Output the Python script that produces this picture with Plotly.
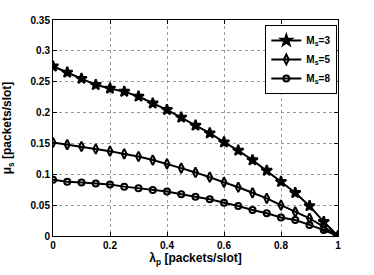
import plotly.graph_objects as go

lam = [0, 0.05, 0.1, 0.15, 0.2, 0.25, 0.3, 0.35, 0.4, 0.45, 0.5,
       0.55, 0.6, 0.65, 0.7, 0.75, 0.8, 0.85, 0.9, 0.95, 1.0]
mu_ms3 = [0.275, 0.265, 0.255, 0.245, 0.239, 0.234, 0.226, 0.215, 0.2045, 0.192, 0.179,
          0.1667, 0.152, 0.1385, 0.123, 0.106, 0.088, 0.070, 0.0487, 0.023, 0.0]
mu_ms5 = [0.1515, 0.148, 0.145, 0.141, 0.1375, 0.133, 0.1288, 0.123, 0.117, 0.110, 0.103,
          0.0953, 0.087, 0.079, 0.070, 0.061, 0.050, 0.039, 0.0287, 0.015, 0.0]
mu_ms8 = [0.091, 0.088, 0.0865, 0.085, 0.0833, 0.080, 0.0774, 0.0747, 0.072, 0.0677, 0.0638,
          0.0595, 0.054, 0.0487, 0.042, 0.0368, 0.030, 0.026, 0.018, 0.0097, 0.0]
names = ["<b>M<sub>s</sub>=3</b>", "<b>M<sub>s</sub>=5</b>", "<b>M<sub>s</sub>=8</b>"]
x_ticks = [0, 0.2, 0.4, 0.6, 0.8, 1]
y_ticks = [0, 0.05, 0.1, 0.15, 0.2, 0.25, 0.3, 0.35]

fig = go.Figure()
specs = [(mu_ms3, "star", 8), (mu_ms5, "diamond-tall-open", 7), (mu_ms8, "circle-open", 6)]
for (ys, sym, sz), nm in zip(specs, names):
    fig.add_trace(go.Scatter(
        x=lam, y=ys, mode="lines+markers", name=nm,
        line=dict(color="black", width=2),
        marker=dict(symbol=sym, size=sz, color="black", line=dict(color="black", width=2)),
    ))

font = dict(family="Liberation Sans, Arial, sans-serif", size=10, color="black")
axis_common = dict(
    showline=True, linecolor="black", linewidth=1, mirror="allticks",
    ticks="inside", ticklen=4, tickcolor="black",
    showgrid=True, gridcolor="#9a9a9a", griddash="dot", gridwidth=1,
    zeroline=False, automargin=False,
    tickfont=dict(family=font["family"], size=10, color="black", weight="bold"),
)
fig.update_layout(
    width=374, height=275,
    margin=dict(l=53, r=36, t=20, b=39),
    paper_bgcolor="white", plot_bgcolor="white",
    font=font,
    showlegend=True,
    legend=dict(x=0.745, y=0.977, xanchor="left", yanchor="top",
                bordercolor="black", borderwidth=1, bgcolor="white",
                font=dict(family=font["family"], size=10, color="black"),
                tracegroupgap=0, itemwidth=30),
    xaxis=dict(range=[0, 1], tickvals=x_ticks, ticktext=["0", "0.2", "0.4", "0.6", "0.8", "1"],
               title=dict(text="<b>λ<sub>p</sub> [packets/slot]</b>", font=dict(size=12), standoff=0),
               **axis_common),
    yaxis=dict(range=[0, 0.35], tickvals=y_ticks,
               ticktext=["0", "0.05", "0.1", "0.15", "0.2", "0.25", "0.3", "0.35"],
               title=dict(text="<b>μ<sub>s</sub> [packets/slot]</b>", font=dict(size=12), standoff=16),
               **axis_common),
)
fig.write_html("out.html", config={"displayModeBar": False},
               post_script="document.body.style.margin='0';")
